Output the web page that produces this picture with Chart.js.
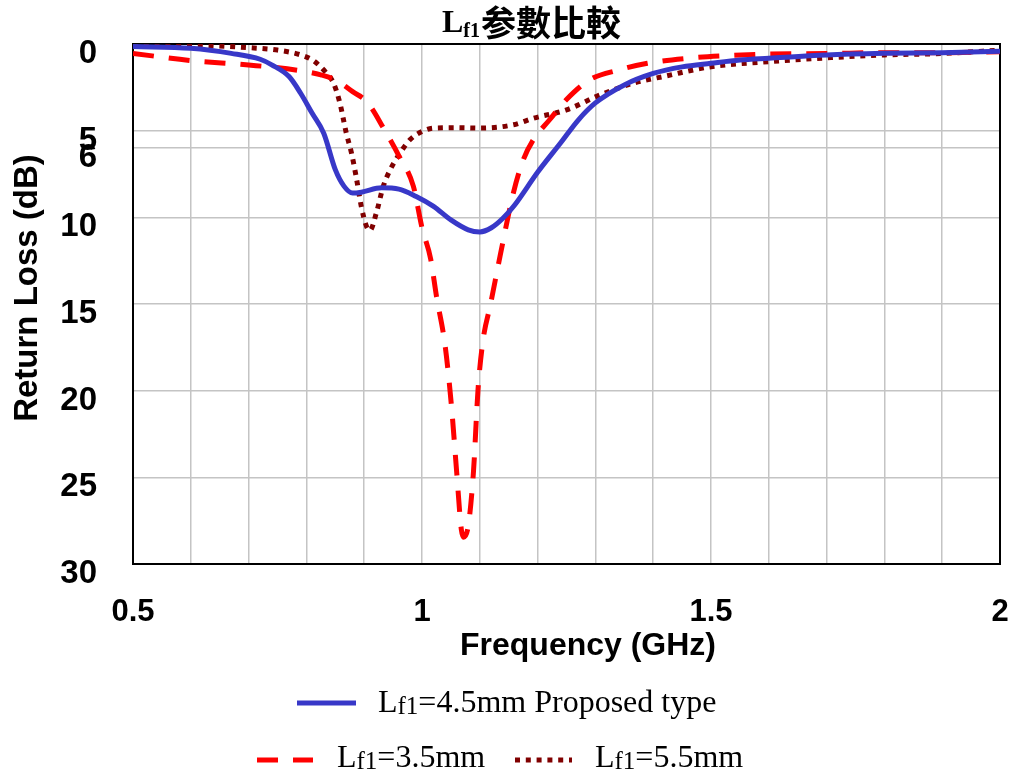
<!DOCTYPE html>
<html>
<head>
<meta charset="utf-8">
<script src="https://cdn.jsdelivr.net/npm/chart.js@4.4.0/dist/chart.umd.min.js"></script>
<style>
  body { margin: 0; background: #fff; }
  #wrap { width: 1009px; height: 774px; }
</style>
</head>
<body>
<div id="wrap"><canvas id="graph" width="1009" height="774"></canvas></div>
<script>
// Lf1 = 4.5 mm (diseño propuesto)
const freqProposed = [0.5, 0.6, 0.67, 0.72, 0.74, 0.77, 0.79, 0.81, 0.83, 0.85, 0.865, 0.88, 0.895, 0.93, 0.96, 0.99, 1.02, 1.05, 1.08, 1.10, 1.12, 1.14, 1.16, 1.2, 1.24, 1.27, 1.3, 1.35, 1.4, 1.45, 1.5, 1.55, 1.6, 1.7, 1.8, 1.9, 2.0];
const rlProposed   = [0.15, 0.25, 0.54, 0.88, 1.2, 1.88, 2.84, 4.0, 5.15, 7.25, 8.2, 8.6, 8.55, 8.3, 8.37, 8.8, 9.37, 10.15, 10.72, 10.84, 10.6, 10.05, 9.3, 7.4, 5.7, 4.4, 3.4, 2.36, 1.7, 1.32, 1.11, 0.92, 0.82, 0.63, 0.54, 0.5, 0.42];

// Lf1 = 3.5 mm
const freq35 = [0.5, 0.6, 0.7, 0.79, 0.825, 0.85, 0.88, 0.905, 0.935, 0.96, 0.985, 1.0, 1.015, 1.025, 1.04, 1.051, 1.06, 1.068, 1.072, 1.08, 1.089, 1.097, 1.106, 1.118, 1.135, 1.158, 1.175, 1.193, 1.22, 1.25, 1.29, 1.34, 1.39, 1.46, 1.53, 1.6, 1.7, 1.8, 1.9, 2.0];
const rl35   = [0.54, 0.96, 1.21, 1.54, 1.78, 2.07, 2.75, 3.35, 4.95, 6.45, 8.2, 10.6, 12.4, 14.55, 17.4, 20.9, 24.7, 28.0, 28.45, 27.8, 24.7, 19.9, 17.0, 15.1, 12.25, 8.6, 6.7, 5.5, 4.4, 3.2, 2.07, 1.5, 1.11, 0.82, 0.67, 0.58, 0.55, 0.5, 0.5, 0.45];

// Lf1 = 5.5 mm
const freq55 = [0.5, 0.6, 0.7, 0.75, 0.79, 0.812, 0.835, 0.847, 0.858, 0.869, 0.878, 0.886, 0.895, 0.904, 0.91, 0.921, 0.933, 0.945, 0.962, 0.979, 1.0, 1.02, 1.06, 1.1, 1.158, 1.193, 1.25, 1.308, 1.366, 1.423, 1.5, 1.6, 1.7, 1.8, 1.9, 2.0];
const rl55   = [0.02, 0.06, 0.21, 0.35, 0.63, 0.96, 1.69, 2.26, 3.41, 5.14, 6.29, 7.64, 9.37, 10.52, 10.75, 9.75, 8.21, 7.25, 6.29, 5.53, 5.05, 4.85, 4.83, 4.85, 4.66, 4.28, 3.8, 2.94, 2.26, 1.84, 1.31, 1.02, 0.8, 0.63, 0.55, 0.35];

// ejes
const xTickValues = [0.5, 1, 1.5, 2];
const xTickLabels = ['0.5', '1', '1.5', '2'];
const yTickValues = [0, 5, 6, 10, 15, 20, 25, 30];

const SANS = "'Liberation Sans', Arial, sans-serif";
const SERIF = "'Liberation Serif', 'Times New Roman', serif";
const CJK = "'Noto Sans CJK TC', 'Noto Sans CJK SC', sans-serif";

function toPoints(xs, ys) {
  return xs.map((x, i) => ({ x, y: ys[i] }));
}

// dibuja "L" + subíndice "f1" + resto del texto, devuelve la x final
function drawLf(ctx, x, base, size, subSize, subDrop, weight, rest) {
  ctx.textAlign = 'left';
  ctx.textBaseline = 'alphabetic';
  ctx.font = `${weight} ${size}px ${SERIF}`;
  ctx.fillText('L', x, base);
  x += ctx.measureText('L').width;
  ctx.font = `${weight} ${subSize}px ${SERIF}`;
  ctx.fillText('f1', x, base + subDrop);
  x += ctx.measureText('f1').width;
  if (rest) {
    ctx.font = `${weight} ${size}px ${SERIF}`;
    ctx.fillText(rest, x, base);
    x += ctx.measureText(rest).width;
  }
  return x;
}

function drawSample(ctx, ds, x1, x2, y) {
  ctx.save();
  ctx.strokeStyle = ds.borderColor;
  ctx.lineWidth = ds.borderWidth;
  ctx.setLineDash(ds.borderDash || []);
  ctx.beginPath();
  ctx.moveTo(x1, y);
  ctx.lineTo(x2, y);
  ctx.stroke();
  ctx.restore();
}

const decoraciones = {
  id: 'decoraciones',
  beforeDatasetsDraw(chart) {
    const { ctx, chartArea: a } = chart;
    ctx.save();
    ctx.strokeStyle = '#000';
    ctx.lineWidth = 2;
    ctx.strokeRect(a.left, a.top, a.right - a.left, a.bottom - a.top);
    ctx.restore();
  },
  afterDraw(chart) {
    const ctx = chart.ctx;
    const ds = chart.data.datasets;
    ctx.save();
    ctx.fillStyle = '#000';

    // título
    const xt = drawLf(ctx, 442, 32, 32, 20, 5, 'bold', '');
    ctx.font = `bold 35px ${CJK}`;
    ctx.textBaseline = 'alphabetic';
    ctx.fillText('参數比較', xt + 1, 36);

    // títulos de ejes
    ctx.font = `bold 32px ${SANS}`;
    ctx.textAlign = 'center';
    ctx.fillText('Frequency (GHz)', 588, 655);
    ctx.save();
    ctx.translate(37, 288);
    ctx.rotate(-Math.PI / 2);
    ctx.font = `bold 33px ${SANS}`;
    ctx.fillText('Return Loss (dB)', 0, 0);
    ctx.restore();

    // leyenda
    drawSample(ctx, ds[0], 297, 356, 703);
    drawLf(ctx, 378, 712, 32, 25, 2, 'normal', '=4.5mm Proposed type');
    drawSample(ctx, ds[1], 257, 313, 760);
    drawLf(ctx, 337, 767, 32, 25, 2, 'normal', '=3.5mm');
    drawSample(ctx, ds[2], 515, 572, 760);
    drawLf(ctx, 595, 767, 32, 25, 2, 'normal', '=5.5mm');
    ctx.restore();
  }
};

const ctx = document.getElementById('graph').getContext('2d');
new Chart(ctx, {
  type: 'line',
  data: {
    datasets: [
      {
        label: 'Lf1=4.5mm Proposed type',
        data: toPoints(freqProposed, rlProposed),
        borderColor: '#3838c8',
        borderWidth: 5
      },
      {
        label: 'Lf1=3.5mm',
        data: toPoints(freq35, rl35),
        borderColor: '#ff0000',
        borderWidth: 5,
        borderDash: [21, 15]
      },
      {
        label: 'Lf1=5.5mm',
        data: toPoints(freq55, rl55),
        borderColor: '#800000',
        borderWidth: 5,
        borderDash: [5, 5.8]
      }
    ]
  },
  options: {
    responsive: false,
    animation: false,
    layout: { padding: { top: 44, right: 9, bottom: 0, left: 0 } },
    elements: {
      point: { radius: 0 },
      line: { cubicInterpolationMode: 'monotone', fill: false }
    },
    plugins: {
      legend: { display: false },
      title: { display: false },
      tooltip: { enabled: false }
    },
    scales: {
      x: {
        type: 'linear',
        min: 0.5,
        max: 2,
        afterFit: s => { s.height = 210; s.paddingLeft = 0; s.paddingRight = 0; },
        grid: { color: '#c4c4c4', lineWidth: 1.5, drawTicks: false },
        border: { display: false },
        ticks: {
          stepSize: 0.1,
          autoSkip: false,
          maxRotation: 0,
          padding: 30,
          color: '#000',
          font: { family: SANS, size: 31, weight: 'bold' },
          callback: v => {
            const i = xTickValues.findIndex(t => Math.abs(t - v) < 1e-6);
            return i >= 0 ? xTickLabels[i] : '';
          }
        }
      },
      y: {
        type: 'linear',
        reverse: true,
        min: 0,
        max: 30,
        afterBuildTicks: s => { s.ticks = yTickValues.map(v => ({ value: v })); },
        afterFit: s => { s.width = 133; s.paddingTop = 0; s.paddingBottom = 0; },
        grid: { color: '#c4c4c4', lineWidth: 1.5, drawTicks: false },
        border: { display: false },
        ticks: {
          autoSkip: false,
          padding: 36,
          labelOffset: 10,
          color: '#000',
          font: { family: SANS, size: 33, weight: 'bold' }
        }
      }
    }
  },
  plugins: [decoraciones]
});
</script>
</body>
</html>
